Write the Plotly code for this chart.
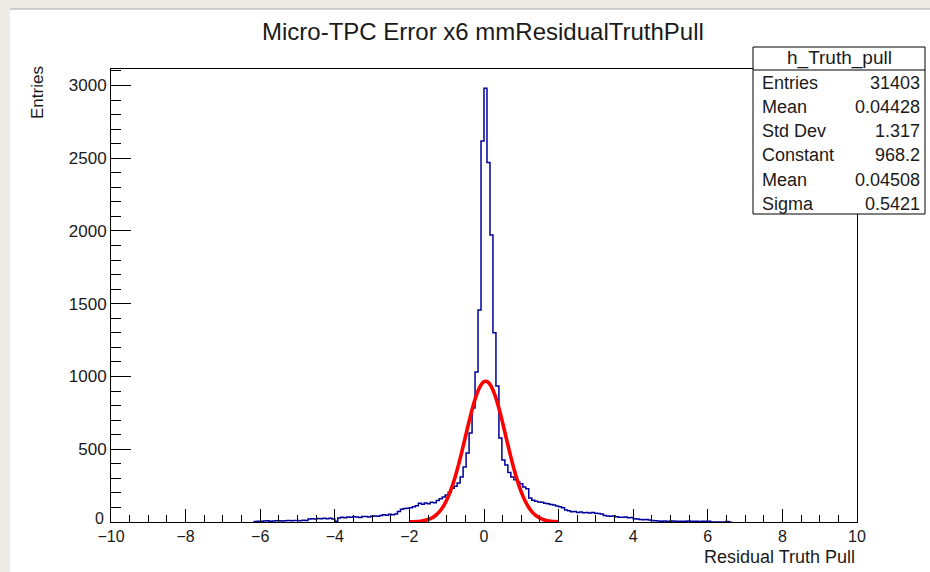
import plotly.graph_objects as go

# ---------------- data ----------------
BIN_START = -6.16      # left edge of first listed bin
BIN_WIDTH = 0.08       # 250 bins over [-10, 10]
COUNTS_LEFT_TAIL = [4, 6, 5, 7, 8, 6, 7, 9, 8, 7, 9, 10, 8, 11, 10, 9, 12, 11,
                    21, 23, 20, 24, 22, 26, 23, 25, 21,
                    6,
                    28, 33, 30, 35, 32, 36, 34, 31, 37,
                    38, 35, 40, 42, 39, 44,
                    50, 47, 53, 49, 55,
                    72, 88, 92, 95]
COUNTS_CORE = [98, 105, 112, 128, 122, 131, 125, 135, 132, 148,
               160, 172, 185, 205, 232, 245, 268, 309, 378, 474,
               612, 783, 1031, 1457, 2619, 2980, 2470, 1972, 1300, 935,
               577, 426, 392, 340, 309, 290, 275, 262, 240, 228,
               165, 150, 142, 137, 135, 128, 125, 120, 117, 110]
COUNTS_RIGHT_TAIL = [105, 98, 82, 78, 70, 72, 66, 68, 64, 66,
                     62, 65, 60, 58, 55, 44, 42, 40, 41, 36,
                     33, 32, 34, 30, 31, 22, 20, 18, 16, 17,
                     14, 10, 8, 7,
                     6, 7, 5, 6, 7, 5, 6, 5, 6, 7, 5, 6, 5, 4, 6, 5, 5,
                     0, 0, 0, 0, 0,
                     3, 0]

FIT_X = [round(-2.0 + 0.1 * i, 1) for i in range(41)]
FIT_Y = [0.8, 1.6, 3.0, 5.5, 9.7, 16.7, 27.7, 44.6, 69.3, 104,
         151, 212, 287, 377, 477, 584, 691, 791, 874, 934,
         965, 963, 929, 867, 781, 681, 573, 467, 367, 279,
         205, 146, 100, 66.4, 42.6, 26.4, 15.8, 9.2, 5.1, 2.8, 1.5]

TITLE = "Micro-TPC Error x6 mmResidualTruthPull"
X_TITLE = "Residual Truth Pull"
Y_TITLE = "Entries"
STATS_NAME = "h_Truth_pull"
STATS_LABELS = ["Entries", "Mean", "Std Dev", "Constant", "Mean", "Sigma"]
STATS_VALUES = ["31403", "0.04428", "1.317", "968.2", "0.04508", "0.5421"]

X_RANGE = [-10, 10]
Y_RANGE = [0, 3113]
Y_TICKS = [0, 500, 1000, 1500, 2000, 2500, 3000]
Y_TICK_TEXT = ["", "500", "1000", "1500", "2000", "2500", "3000"]
Y_ZERO_LABEL = "0"

# ---------------- figure ----------------
counts = COUNTS_LEFT_TAIL + COUNTS_CORE + COUNTS_RIGHT_TAIL
n = len(counts)
edges = [BIN_START + BIN_WIDTH * i for i in range(n + 1)]
hx = [edges[0]] + edges[:-1] + [edges[-1]]
hy = [0] + counts + [0]

W, H = 930, 572
ML, MR, MT, MB = 111, 73, 69, 50
PW, PH = W - ML - MR, H - MT - MB


def px(xp):
    return (xp - ML) / PW


def py(yp):
    return (H - MB - yp) / PH


FONT = "Liberation Sans, Arial, Helvetica, sans-serif"
TXT = "#1a1a1a"

fig = go.Figure()
fig.add_trace(go.Scatter(x=hx, y=hy, mode="lines",
                         line=dict(color="#00009c", width=1.5, shape="hv"),
                         hoverinfo="skip"))
fig.add_trace(go.Scatter(x=FIT_X, y=FIT_Y, mode="lines",
                         line=dict(color="#ff0000", width=3.6, shape="spline"),
                         hoverinfo="skip"))

shapes = [
    dict(type="rect", xref="paper", yref="paper", x0=px(10), x1=px(940),
         y0=py(590), y1=py(9), fillcolor="white", line=dict(width=0), layer="below"),
    dict(type="line", xref="paper", yref="paper", x0=px(10), x1=px(940),
         y0=py(9), y1=py(9), line=dict(color="#a8a8a8", width=1)),
    dict(type="rect", xref="paper", yref="paper", x0=px(753), x1=px(925),
         y0=py(214), y1=py(47), fillcolor="white",
         line=dict(color="black", width=1), layer="above"),
    dict(type="line", xref="paper", yref="paper", x0=px(753), x1=px(925),
         y0=py(70), y1=py(70), line=dict(color="black", width=1)),
]

ann = [
    dict(text=TITLE, x=px(483), y=py(31), xref="paper", yref="paper",
         showarrow=False, xanchor="center", yanchor="middle",
         font=dict(family=FONT, size=24, color=TXT)),
    dict(text=X_TITLE, x=px(857), y=py(557), xref="paper", yref="paper",
         showarrow=False, xanchor="right", yanchor="middle",
         font=dict(family=FONT, size=18, color=TXT)),
    dict(text=Y_TITLE, x=px(37), y=py(93), xref="paper", yref="paper",
         showarrow=False, xanchor="center", yanchor="middle", textangle=-90,
         font=dict(family=FONT, size=17, color=TXT)),
    dict(text=STATS_NAME, x=px(839), y=py(58), xref="paper", yref="paper",
         showarrow=False, xanchor="center", yanchor="middle",
         font=dict(family=FONT, size=19, color=TXT)),
    dict(text=Y_ZERO_LABEL, x=px(106), y=py(518), xref="paper", yref="paper",
         showarrow=False, xanchor="right", yanchor="middle",
         font=dict(family=FONT, size=16, color=TXT)),
]
row_y = [83, 107, 131, 155, 180, 204]
for lab, val, yy in zip(STATS_LABELS, STATS_VALUES, row_y):
    ann.append(dict(text=lab, x=px(760), y=py(yy), xref="paper", yref="paper",
                    showarrow=False, xanchor="left", yanchor="middle",
                    font=dict(family=FONT, size=18, color=TXT)))
    ann.append(dict(text=val, x=px(922), y=py(yy), xref="paper", yref="paper",
                    showarrow=False, xanchor="right", yanchor="middle",
                    font=dict(family=FONT, size=18, color=TXT)))

fig.update_layout(
    width=W, height=H,
    margin=dict(l=ML, r=MR, t=MT, b=MB, pad=0),
    paper_bgcolor="#ecebe5", plot_bgcolor="white",
    showlegend=False,
    shapes=shapes, annotations=ann,
    xaxis=dict(range=X_RANGE, tick0=-10, dtick=2, ticks="inside", ticklen=13,
               tickcolor="black", tickwidth=1, showline=True, mirror=True,
               linecolor="black", linewidth=1, showgrid=False, zeroline=False,
               layer="above traces",
               tickfont=dict(family=FONT, size=16, color=TXT),
               minor=dict(dtick=0.5, tick0=-10, ticks="inside", ticklen=7,
                          tickcolor="black", tickwidth=1, showgrid=False)),
    yaxis=dict(range=Y_RANGE, tickvals=Y_TICKS, ticktext=Y_TICK_TEXT,
               ticks="inside", ticklen=20,
               tickcolor="black", tickwidth=1, showline=True, mirror=True,
               linecolor="black", linewidth=1, showgrid=False, zeroline=False,
               layer="above traces",
               tickfont=dict(family=FONT, size=17, color=TXT),
               minor=dict(dtick=100, tick0=0, ticks="inside", ticklen=10,
                          tickcolor="black", tickwidth=1, showgrid=False)),
)

fig.write_html("out.html")
